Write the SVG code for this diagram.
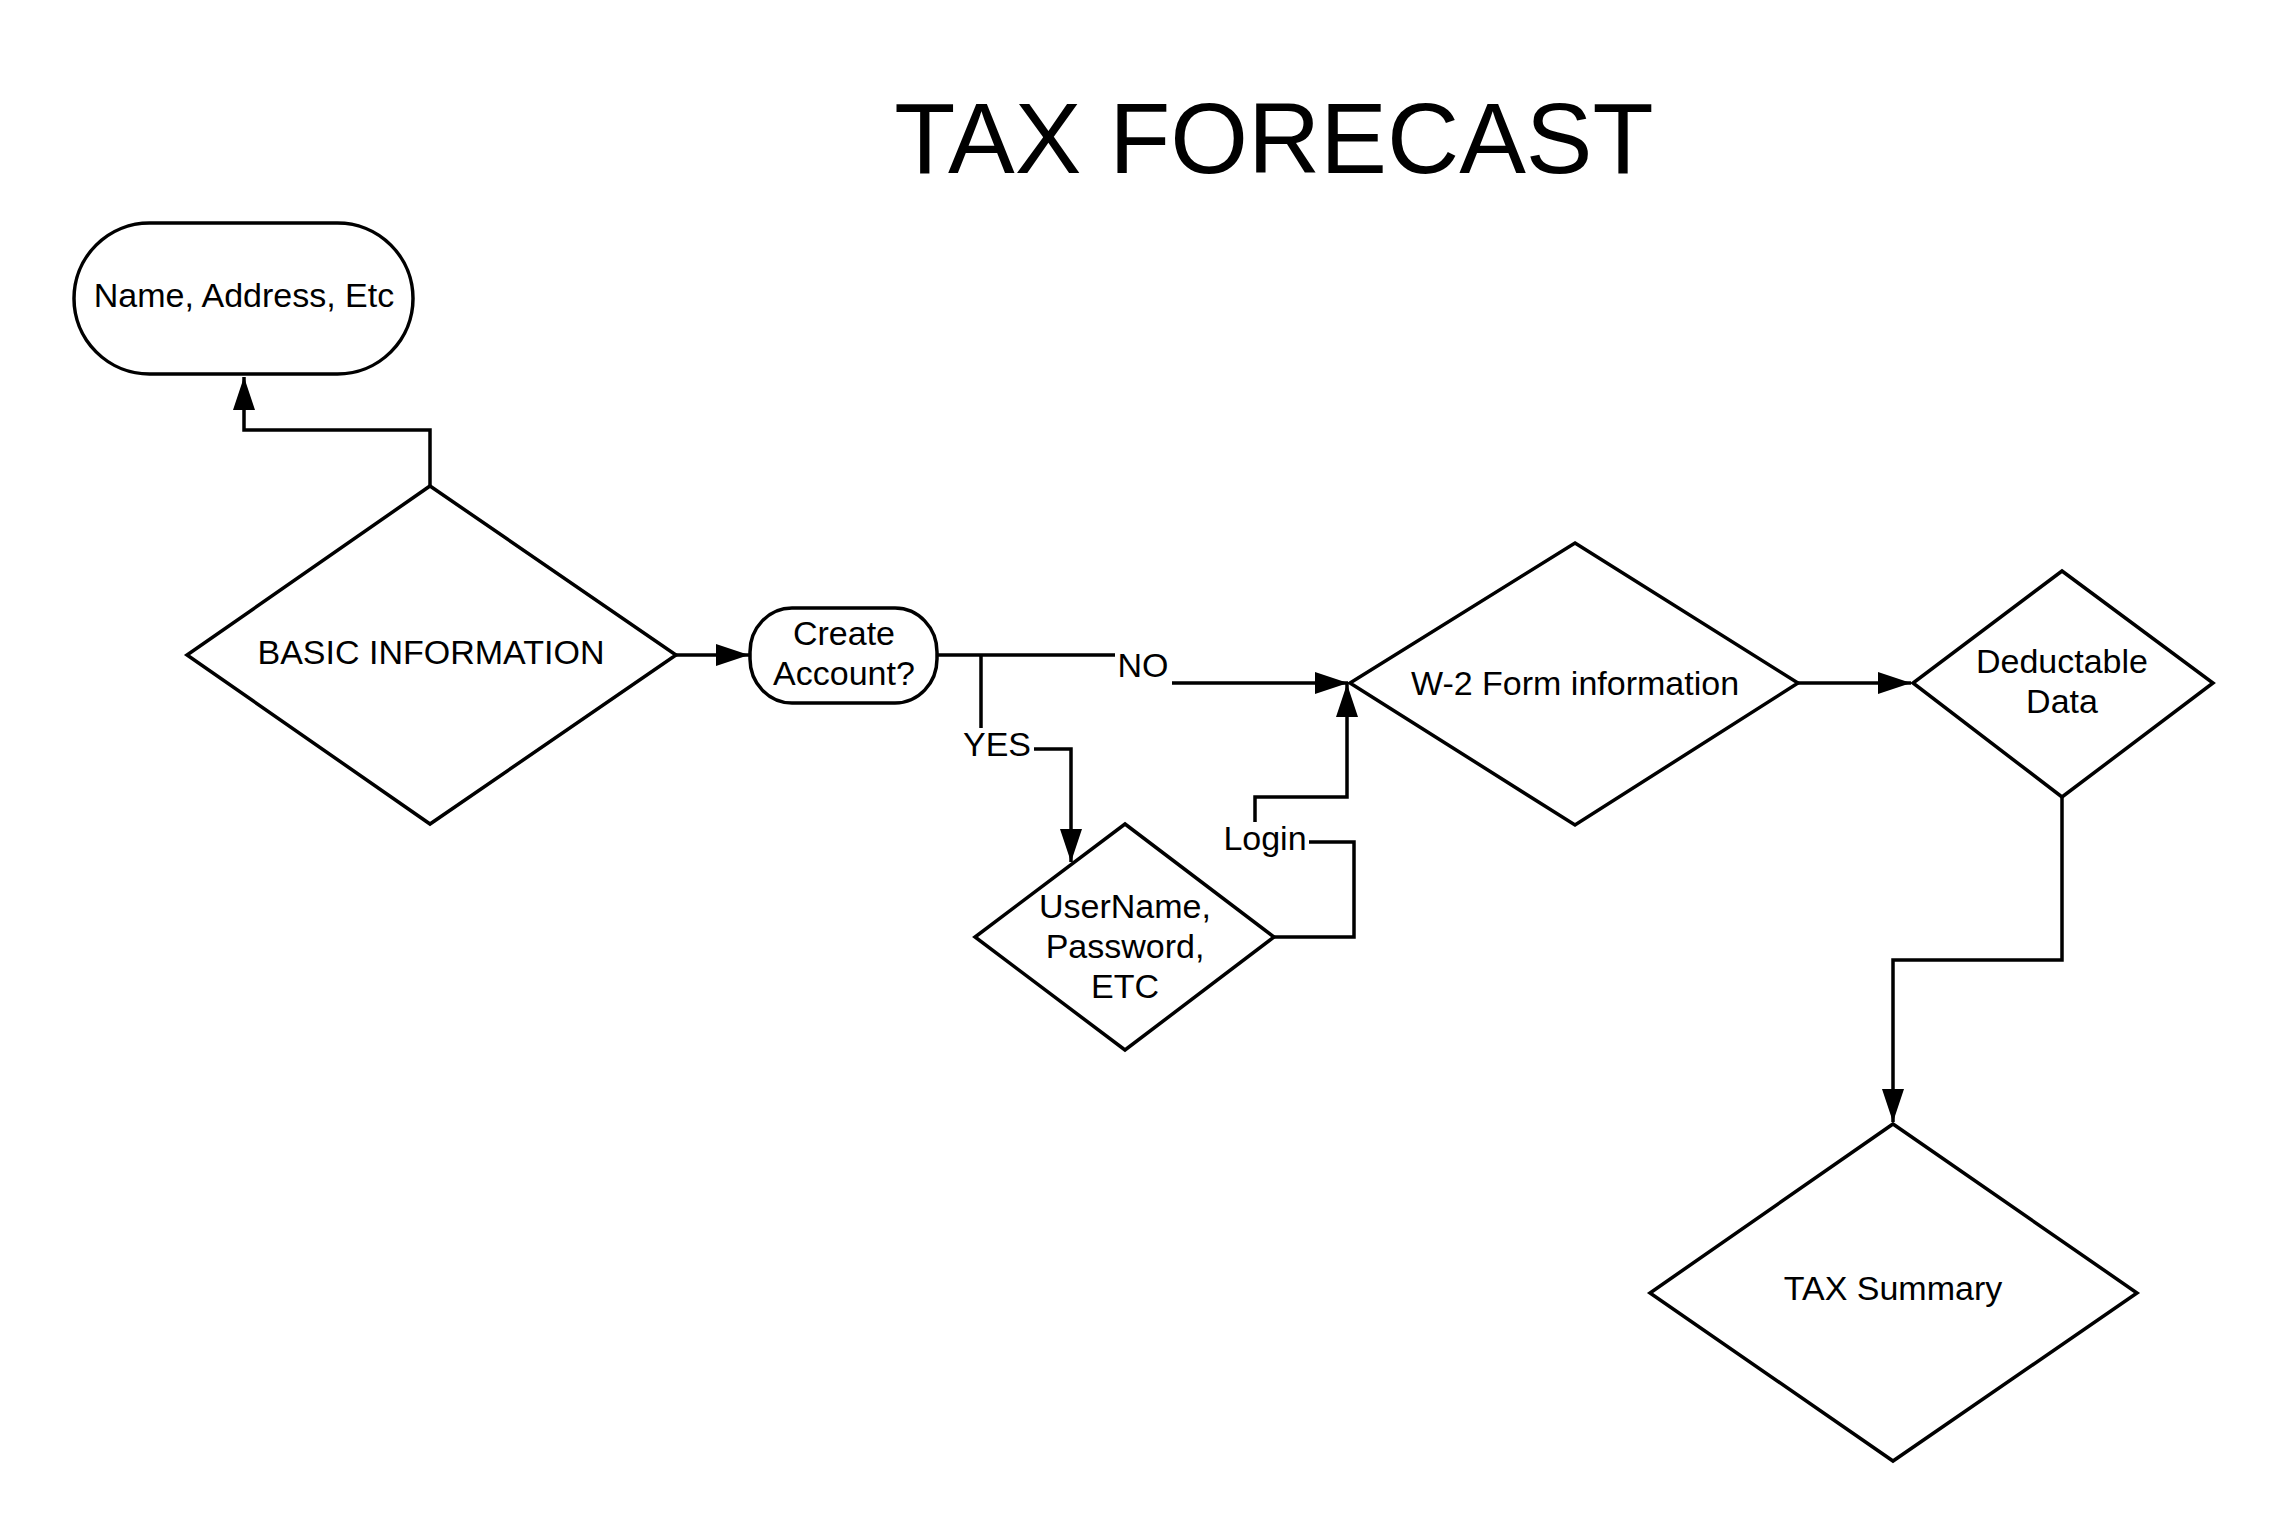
<svg xmlns="http://www.w3.org/2000/svg" width="2288" height="1538" viewBox="0 0 2288 1538">
<defs>
<style>
.shape{fill:#fff;stroke:#000;stroke-width:3.5}
.conn{fill:none;stroke:#000;stroke-width:3.5}
.t{font-family:"Liberation Sans",Arial,sans-serif;font-size:34px;fill:#000;text-anchor:middle}
.lbl{fill:#fff;stroke:none}
</style>
<marker id="arr" markerUnits="userSpaceOnUse" markerWidth="34" markerHeight="22" refX="33" refY="11" orient="auto">
<path d="M0,0 L33,11 L0,22 z" fill="#000"/>
</marker>
</defs>
<rect width="2288" height="1538" fill="#fff"/>
<text x="1274" y="173" font-family="'Liberation Sans',Arial,sans-serif" font-size="100" text-anchor="middle" fill="#000">TAX FORECAST</text>

<g id="connectors">
<path class="conn" d="M430,486 V430 H244 V377" marker-end="url(#arr)"/>
<path class="conn" d="M676,655 H749" marker-end="url(#arr)"/>
<path class="conn" d="M937,655 H1143 V683 H1348" marker-end="url(#arr)"/>
<path class="conn" d="M981,655 V749 H1071 V862" marker-end="url(#arr)"/>
<path class="conn" d="M1274,937 H1354 V842 H1255 V797 H1347 V684" marker-end="url(#arr)"/>
<path class="conn" d="M1798,683 H1911" marker-end="url(#arr)"/>
<path class="conn" d="M2062,797 V960 H1893 V1122" marker-end="url(#arr)"/>
<g id="label-no"><rect class="lbl" x="1115" y="648" width="57" height="40"/><text class="t" x="1143" y="677">NO</text></g>
<g id="label-yes"><rect class="lbl" x="961" y="728" width="73" height="32"/><text class="t" x="997" y="756">YES</text></g>
<g id="label-login"><rect class="lbl" x="1222" y="822" width="87" height="40"/><text class="t" x="1265" y="850">Login</text></g>
</g>

<g id="node-name">
<rect class="shape" x="74" y="223" width="339" height="151" rx="75.5" ry="75.5"/>
<text class="t" x="244" y="307">Name, Address, Etc</text>
</g>
<g id="node-basic">
<polygon class="shape" points="430,486 676,655 430,824 187,655"/>
<text class="t" x="431" y="664">BASIC INFORMATION</text>
</g>
<g id="node-create">
<rect class="shape" x="750" y="608" width="187" height="95" rx="42" ry="44"/>
<text class="t" x="844" y="645">Create</text>
<text class="t" x="844" y="685">Account?</text>
</g>
<g id="node-username">
<polygon class="shape" points="1125,824 1274,937 1125,1050 975,937"/>
<text class="t" x="1125" y="918">UserName,</text>
<text class="t" x="1125" y="958">Password,</text>
<text class="t" x="1125" y="998">ETC</text>
</g>
<g id="node-w2">
<polygon class="shape" points="1575,543 1798,683 1575,825 1350,683"/>
<text class="t" x="1575" y="695">W-2 Form information</text>
</g>
<g id="node-deductable">
<polygon class="shape" points="2062,571 2213,683 2062,797 1913,683"/>
<text class="t" x="2062" y="673">Deductable</text>
<text class="t" x="2062" y="713">Data</text>
</g>
<g id="node-summary">
<polygon class="shape" points="1893,1124 2137,1293 1893,1461 1650,1293"/>
<text class="t" x="1893" y="1300">TAX Summary</text>
</g>
</svg>
